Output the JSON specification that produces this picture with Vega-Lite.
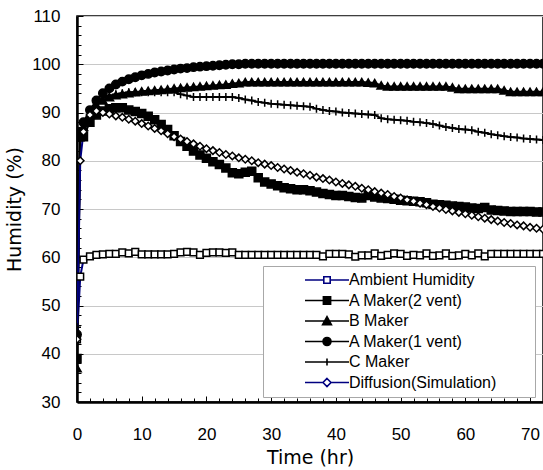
{
"$schema": "https://vega.github.io/schema/vega-lite/v6.json",
"width": 466, "height": 386,
"autosize": "none",
"padding": {"left": 77, "top": 16, "right": 0, "bottom": 68},
"background": "white",
"config": {"view": {"stroke": "black", "strokeWidth": 1.5}, "font": "Liberation Sans",
  "legend": {"orient": "none", "legendX": 186, "legendY": 250, "title": null,
    "labelFont": "Liberation Sans", "labelFontSize": 16, "labelColor": "black",
    "symbolSize": 64, "symbolOffset": 50, "labelOffset": 14, "rowPadding": 4.5, "padding": 6,
    "strokeColor": "#a8a8a8", "fillColor": "white", "symbolStrokeWidth": 1.6, "symbolOpacity": 1}},
"datasets": {"d": [
{"s":"Ambient Humidity","t":0,"h":43},{"s":"Ambient Humidity","t":0.5,"h":56},{"s":"Ambient Humidity","t":1,"h":59.5},{"s":"Ambient Humidity","t":2,"h":60.2},{"s":"Ambient Humidity","t":3,"h":60.5},{"s":"Ambient Humidity","t":4,"h":60.6},{"s":"Ambient Humidity","t":5,"h":60.7},{"s":"Ambient Humidity","t":6,"h":60.7},{"s":"Ambient Humidity","t":7,"h":61},{"s":"Ambient Humidity","t":8,"h":60.8},{"s":"Ambient Humidity","t":9,"h":61.1},{"s":"Ambient Humidity","t":10,"h":60.6},{"s":"Ambient Humidity","t":11,"h":60.6},{"s":"Ambient Humidity","t":12,"h":60.6},{"s":"Ambient Humidity","t":13,"h":60.6},{"s":"Ambient Humidity","t":14,"h":60.6},{"s":"Ambient Humidity","t":15,"h":60.7},{"s":"Ambient Humidity","t":16,"h":61},{"s":"Ambient Humidity","t":17,"h":61.1},{"s":"Ambient Humidity","t":18,"h":61},{"s":"Ambient Humidity","t":19,"h":60.5},{"s":"Ambient Humidity","t":20,"h":60.9},{"s":"Ambient Humidity","t":21,"h":61},{"s":"Ambient Humidity","t":22,"h":61},{"s":"Ambient Humidity","t":23,"h":60.9},{"s":"Ambient Humidity","t":24,"h":61},{"s":"Ambient Humidity","t":25,"h":60.5},{"s":"Ambient Humidity","t":26,"h":60.5},{"s":"Ambient Humidity","t":27,"h":60.5},{"s":"Ambient Humidity","t":28,"h":60.5},{"s":"Ambient Humidity","t":29,"h":60.5},{"s":"Ambient Humidity","t":30,"h":60.5},{"s":"Ambient Humidity","t":31,"h":60.5},{"s":"Ambient Humidity","t":32,"h":60.5},{"s":"Ambient Humidity","t":33,"h":60.5},{"s":"Ambient Humidity","t":34,"h":60.5},{"s":"Ambient Humidity","t":35,"h":60.5},{"s":"Ambient Humidity","t":36,"h":60.5},{"s":"Ambient Humidity","t":37,"h":60.5},{"s":"Ambient Humidity","t":38,"h":60.2},{"s":"Ambient Humidity","t":39,"h":60.7},{"s":"Ambient Humidity","t":40,"h":60.7},{"s":"Ambient Humidity","t":41,"h":60.7},{"s":"Ambient Humidity","t":42,"h":60.6},{"s":"Ambient Humidity","t":43,"h":60.1},{"s":"Ambient Humidity","t":44,"h":60.4},{"s":"Ambient Humidity","t":45,"h":60.4},{"s":"Ambient Humidity","t":46,"h":60.8},{"s":"Ambient Humidity","t":47,"h":60.3},{"s":"Ambient Humidity","t":48,"h":60.5},{"s":"Ambient Humidity","t":49,"h":60.8},{"s":"Ambient Humidity","t":50,"h":60.7},{"s":"Ambient Humidity","t":51,"h":60.3},{"s":"Ambient Humidity","t":52,"h":60.5},{"s":"Ambient Humidity","t":53,"h":60.4},{"s":"Ambient Humidity","t":54,"h":60.8},{"s":"Ambient Humidity","t":55,"h":60.3},{"s":"Ambient Humidity","t":56,"h":60.4},{"s":"Ambient Humidity","t":57,"h":60.8},{"s":"Ambient Humidity","t":58,"h":60.3},{"s":"Ambient Humidity","t":59,"h":60.4},{"s":"Ambient Humidity","t":60,"h":60.7},{"s":"Ambient Humidity","t":61,"h":60.4},{"s":"Ambient Humidity","t":62,"h":60.8},{"s":"Ambient Humidity","t":63,"h":60.2},{"s":"Ambient Humidity","t":64,"h":60.7},{"s":"Ambient Humidity","t":65,"h":60.7},{"s":"Ambient Humidity","t":66,"h":60.7},{"s":"Ambient Humidity","t":67,"h":60.7},{"s":"Ambient Humidity","t":68,"h":60.7},{"s":"Ambient Humidity","t":69,"h":60.7},{"s":"Ambient Humidity","t":70,"h":60.7},{"s":"Ambient Humidity","t":71,"h":60.7},{"s":"Ambient Humidity","t":72,"h":60.7},
{"s":"A Maker(2 vent)","t":0,"h":39},{"s":"A Maker(2 vent)","t":0.5,"h":85},{"s":"A Maker(2 vent)","t":1,"h":85},{"s":"A Maker(2 vent)","t":2,"h":88},{"s":"A Maker(2 vent)","t":3,"h":89.5},{"s":"A Maker(2 vent)","t":4,"h":90.3},{"s":"A Maker(2 vent)","t":5,"h":90.8},{"s":"A Maker(2 vent)","t":6,"h":91},{"s":"A Maker(2 vent)","t":7,"h":91},{"s":"A Maker(2 vent)","t":8,"h":90.5},{"s":"A Maker(2 vent)","t":9,"h":90.2},{"s":"A Maker(2 vent)","t":10,"h":89.8},{"s":"A Maker(2 vent)","t":11,"h":89.2},{"s":"A Maker(2 vent)","t":12,"h":88.5},{"s":"A Maker(2 vent)","t":13,"h":87.5},{"s":"A Maker(2 vent)","t":14,"h":86.5},{"s":"A Maker(2 vent)","t":15,"h":85.2},{"s":"A Maker(2 vent)","t":16,"h":84},{"s":"A Maker(2 vent)","t":17,"h":83},{"s":"A Maker(2 vent)","t":18,"h":82},{"s":"A Maker(2 vent)","t":19,"h":81.2},{"s":"A Maker(2 vent)","t":20,"h":80.5},{"s":"A Maker(2 vent)","t":21,"h":79.8},{"s":"A Maker(2 vent)","t":22,"h":79.2},{"s":"A Maker(2 vent)","t":23,"h":78.5},{"s":"A Maker(2 vent)","t":24,"h":77.5},{"s":"A Maker(2 vent)","t":25,"h":77.3},{"s":"A Maker(2 vent)","t":26,"h":77.6},{"s":"A Maker(2 vent)","t":27,"h":77.8},{"s":"A Maker(2 vent)","t":28,"h":76.5},{"s":"A Maker(2 vent)","t":29,"h":75.6},{"s":"A Maker(2 vent)","t":30,"h":75.2},{"s":"A Maker(2 vent)","t":31,"h":74.8},{"s":"A Maker(2 vent)","t":32,"h":74.4},{"s":"A Maker(2 vent)","t":33,"h":74.2},{"s":"A Maker(2 vent)","t":34,"h":74},{"s":"A Maker(2 vent)","t":35,"h":74},{"s":"A Maker(2 vent)","t":36,"h":73.8},{"s":"A Maker(2 vent)","t":37,"h":73.5},{"s":"A Maker(2 vent)","t":38,"h":73.2},{"s":"A Maker(2 vent)","t":39,"h":73},{"s":"A Maker(2 vent)","t":40,"h":72.8},{"s":"A Maker(2 vent)","t":41,"h":72.8},{"s":"A Maker(2 vent)","t":42,"h":72.6},{"s":"A Maker(2 vent)","t":43,"h":72.4},{"s":"A Maker(2 vent)","t":44,"h":72.3},{"s":"A Maker(2 vent)","t":45,"h":72.8},{"s":"A Maker(2 vent)","t":46,"h":72.5},{"s":"A Maker(2 vent)","t":47,"h":72.3},{"s":"A Maker(2 vent)","t":48,"h":72.2},{"s":"A Maker(2 vent)","t":49,"h":72},{"s":"A Maker(2 vent)","t":50,"h":71.8},{"s":"A Maker(2 vent)","t":51,"h":71.7},{"s":"A Maker(2 vent)","t":52,"h":71.6},{"s":"A Maker(2 vent)","t":53,"h":71.5},{"s":"A Maker(2 vent)","t":54,"h":71.3},{"s":"A Maker(2 vent)","t":55,"h":71},{"s":"A Maker(2 vent)","t":56,"h":70.9},{"s":"A Maker(2 vent)","t":57,"h":70.8},{"s":"A Maker(2 vent)","t":58,"h":70.6},{"s":"A Maker(2 vent)","t":59,"h":70.5},{"s":"A Maker(2 vent)","t":60,"h":70.4},{"s":"A Maker(2 vent)","t":61,"h":70.2},{"s":"A Maker(2 vent)","t":62,"h":70.1},{"s":"A Maker(2 vent)","t":63,"h":70.3},{"s":"A Maker(2 vent)","t":64,"h":69.8},{"s":"A Maker(2 vent)","t":65,"h":69.7},{"s":"A Maker(2 vent)","t":66,"h":69.6},{"s":"A Maker(2 vent)","t":67,"h":69.5},{"s":"A Maker(2 vent)","t":68,"h":69.5},{"s":"A Maker(2 vent)","t":69,"h":69.5},{"s":"A Maker(2 vent)","t":70,"h":69.5},{"s":"A Maker(2 vent)","t":71,"h":69.4},{"s":"A Maker(2 vent)","t":72,"h":69.4},
{"s":"B Maker","t":0,"h":37},{"s":"B Maker","t":0.5,"h":86},{"s":"B Maker","t":1,"h":87},{"s":"B Maker","t":2,"h":89.5},{"s":"B Maker","t":3,"h":91.5},{"s":"B Maker","t":4,"h":92.5},{"s":"B Maker","t":5,"h":93.2},{"s":"B Maker","t":6,"h":93.6},{"s":"B Maker","t":7,"h":93.8},{"s":"B Maker","t":8,"h":94},{"s":"B Maker","t":9,"h":94.2},{"s":"B Maker","t":10,"h":94.4},{"s":"B Maker","t":11,"h":94.5},{"s":"B Maker","t":12,"h":94.6},{"s":"B Maker","t":13,"h":94.7},{"s":"B Maker","t":14,"h":94.8},{"s":"B Maker","t":15,"h":95},{"s":"B Maker","t":16,"h":95.1},{"s":"B Maker","t":17,"h":95.2},{"s":"B Maker","t":18,"h":95.3},{"s":"B Maker","t":19,"h":95.4},{"s":"B Maker","t":20,"h":95.5},{"s":"B Maker","t":21,"h":95.6},{"s":"B Maker","t":22,"h":95.7},{"s":"B Maker","t":23,"h":95.8},{"s":"B Maker","t":24,"h":96},{"s":"B Maker","t":25,"h":96.1},{"s":"B Maker","t":26,"h":96.3},{"s":"B Maker","t":27,"h":96.3},{"s":"B Maker","t":28,"h":96.3},{"s":"B Maker","t":29,"h":96.3},{"s":"B Maker","t":30,"h":96.3},{"s":"B Maker","t":31,"h":96.3},{"s":"B Maker","t":32,"h":96.3},{"s":"B Maker","t":33,"h":96.3},{"s":"B Maker","t":34,"h":96.3},{"s":"B Maker","t":35,"h":96.3},{"s":"B Maker","t":36,"h":96.3},{"s":"B Maker","t":37,"h":96.3},{"s":"B Maker","t":38,"h":96.3},{"s":"B Maker","t":39,"h":96.3},{"s":"B Maker","t":40,"h":96.3},{"s":"B Maker","t":41,"h":96.3},{"s":"B Maker","t":42,"h":96.3},{"s":"B Maker","t":43,"h":96.3},{"s":"B Maker","t":44,"h":96.3},{"s":"B Maker","t":45,"h":96.2},{"s":"B Maker","t":46,"h":96.1},{"s":"B Maker","t":47,"h":95.6},{"s":"B Maker","t":48,"h":95.4},{"s":"B Maker","t":49,"h":95.4},{"s":"B Maker","t":50,"h":95.4},{"s":"B Maker","t":51,"h":95.4},{"s":"B Maker","t":52,"h":95.4},{"s":"B Maker","t":53,"h":95.4},{"s":"B Maker","t":54,"h":95.4},{"s":"B Maker","t":55,"h":95.4},{"s":"B Maker","t":56,"h":95.4},{"s":"B Maker","t":57,"h":95.4},{"s":"B Maker","t":58,"h":95.2},{"s":"B Maker","t":59,"h":94.9},{"s":"B Maker","t":60,"h":94.9},{"s":"B Maker","t":61,"h":94.9},{"s":"B Maker","t":62,"h":94.9},{"s":"B Maker","t":63,"h":94.9},{"s":"B Maker","t":64,"h":94.9},{"s":"B Maker","t":65,"h":94.9},{"s":"B Maker","t":66,"h":94.6},{"s":"B Maker","t":67,"h":94.3},{"s":"B Maker","t":68,"h":94.3},{"s":"B Maker","t":69,"h":94.3},{"s":"B Maker","t":70,"h":94.3},{"s":"B Maker","t":71,"h":94.3},{"s":"B Maker","t":72,"h":94.3},
{"s":"A Maker(1 vent)","t":0,"h":44},{"s":"A Maker(1 vent)","t":0.5,"h":86},{"s":"A Maker(1 vent)","t":1,"h":88},{"s":"A Maker(1 vent)","t":2,"h":90.5},{"s":"A Maker(1 vent)","t":3,"h":92.5},{"s":"A Maker(1 vent)","t":4,"h":94},{"s":"A Maker(1 vent)","t":5,"h":95},{"s":"A Maker(1 vent)","t":6,"h":95.8},{"s":"A Maker(1 vent)","t":7,"h":96.4},{"s":"A Maker(1 vent)","t":8,"h":96.9},{"s":"A Maker(1 vent)","t":9,"h":97.3},{"s":"A Maker(1 vent)","t":10,"h":97.7},{"s":"A Maker(1 vent)","t":11,"h":98},{"s":"A Maker(1 vent)","t":12,"h":98.3},{"s":"A Maker(1 vent)","t":13,"h":98.5},{"s":"A Maker(1 vent)","t":14,"h":98.7},{"s":"A Maker(1 vent)","t":15,"h":98.9},{"s":"A Maker(1 vent)","t":16,"h":99.1},{"s":"A Maker(1 vent)","t":17,"h":99.2},{"s":"A Maker(1 vent)","t":18,"h":99.4},{"s":"A Maker(1 vent)","t":19,"h":99.5},{"s":"A Maker(1 vent)","t":20,"h":99.6},{"s":"A Maker(1 vent)","t":21,"h":99.7},{"s":"A Maker(1 vent)","t":22,"h":99.8},{"s":"A Maker(1 vent)","t":23,"h":99.9},{"s":"A Maker(1 vent)","t":24,"h":100},{"s":"A Maker(1 vent)","t":25,"h":100},{"s":"A Maker(1 vent)","t":26,"h":100.1},{"s":"A Maker(1 vent)","t":27,"h":100.1},{"s":"A Maker(1 vent)","t":28,"h":100.1},{"s":"A Maker(1 vent)","t":29,"h":100.1},{"s":"A Maker(1 vent)","t":30,"h":100.1},{"s":"A Maker(1 vent)","t":31,"h":100.1},{"s":"A Maker(1 vent)","t":32,"h":100.1},{"s":"A Maker(1 vent)","t":33,"h":100.1},{"s":"A Maker(1 vent)","t":34,"h":100.1},{"s":"A Maker(1 vent)","t":35,"h":100.1},{"s":"A Maker(1 vent)","t":36,"h":100.1},{"s":"A Maker(1 vent)","t":37,"h":100.1},{"s":"A Maker(1 vent)","t":38,"h":100.1},{"s":"A Maker(1 vent)","t":39,"h":100.1},{"s":"A Maker(1 vent)","t":40,"h":100.1},{"s":"A Maker(1 vent)","t":41,"h":100.1},{"s":"A Maker(1 vent)","t":42,"h":100.1},{"s":"A Maker(1 vent)","t":43,"h":100.1},{"s":"A Maker(1 vent)","t":44,"h":100.1},{"s":"A Maker(1 vent)","t":45,"h":100.1},{"s":"A Maker(1 vent)","t":46,"h":100.1},{"s":"A Maker(1 vent)","t":47,"h":100.1},{"s":"A Maker(1 vent)","t":48,"h":100.1},{"s":"A Maker(1 vent)","t":49,"h":100.1},{"s":"A Maker(1 vent)","t":50,"h":100.1},{"s":"A Maker(1 vent)","t":51,"h":100.1},{"s":"A Maker(1 vent)","t":52,"h":100.1},{"s":"A Maker(1 vent)","t":53,"h":100.1},{"s":"A Maker(1 vent)","t":54,"h":100.1},{"s":"A Maker(1 vent)","t":55,"h":100.1},{"s":"A Maker(1 vent)","t":56,"h":100.1},{"s":"A Maker(1 vent)","t":57,"h":100.1},{"s":"A Maker(1 vent)","t":58,"h":100.1},{"s":"A Maker(1 vent)","t":59,"h":100.1},{"s":"A Maker(1 vent)","t":60,"h":100.1},{"s":"A Maker(1 vent)","t":61,"h":100.1},{"s":"A Maker(1 vent)","t":62,"h":100.1},{"s":"A Maker(1 vent)","t":63,"h":100.1},{"s":"A Maker(1 vent)","t":64,"h":100.1},{"s":"A Maker(1 vent)","t":65,"h":100.1},{"s":"A Maker(1 vent)","t":66,"h":100.1},{"s":"A Maker(1 vent)","t":67,"h":100.1},{"s":"A Maker(1 vent)","t":68,"h":100.1},{"s":"A Maker(1 vent)","t":69,"h":100.1},{"s":"A Maker(1 vent)","t":70,"h":100.1},{"s":"A Maker(1 vent)","t":71,"h":100.1},{"s":"A Maker(1 vent)","t":72,"h":100.1},
{"s":"C Maker","t":0,"h":45.5},{"s":"C Maker","t":0.5,"h":86},{"s":"C Maker","t":1,"h":87.5},{"s":"C Maker","t":2,"h":90},{"s":"C Maker","t":3,"h":92},{"s":"C Maker","t":4,"h":93},{"s":"C Maker","t":5,"h":93.5},{"s":"C Maker","t":6,"h":93.8},{"s":"C Maker","t":7,"h":94},{"s":"C Maker","t":8,"h":94.2},{"s":"C Maker","t":9,"h":94.2},{"s":"C Maker","t":10,"h":94.2},{"s":"C Maker","t":11,"h":94.2},{"s":"C Maker","t":12,"h":94.2},{"s":"C Maker","t":13,"h":94.2},{"s":"C Maker","t":14,"h":94.2},{"s":"C Maker","t":15,"h":94.2},{"s":"C Maker","t":16,"h":93.8},{"s":"C Maker","t":17,"h":93.5},{"s":"C Maker","t":18,"h":93.2},{"s":"C Maker","t":19,"h":93.2},{"s":"C Maker","t":20,"h":93.2},{"s":"C Maker","t":21,"h":93.2},{"s":"C Maker","t":22,"h":93.2},{"s":"C Maker","t":23,"h":93.2},{"s":"C Maker","t":24,"h":93.2},{"s":"C Maker","t":25,"h":93},{"s":"C Maker","t":26,"h":92.7},{"s":"C Maker","t":27,"h":92.5},{"s":"C Maker","t":28,"h":92.2},{"s":"C Maker","t":29,"h":92},{"s":"C Maker","t":30,"h":91.8},{"s":"C Maker","t":31,"h":91.7},{"s":"C Maker","t":32,"h":91.6},{"s":"C Maker","t":33,"h":91.5},{"s":"C Maker","t":34,"h":91.4},{"s":"C Maker","t":35,"h":91.3},{"s":"C Maker","t":36,"h":91.2},{"s":"C Maker","t":37,"h":90.8},{"s":"C Maker","t":38,"h":90.5},{"s":"C Maker","t":39,"h":90.3},{"s":"C Maker","t":40,"h":90.2},{"s":"C Maker","t":41,"h":90},{"s":"C Maker","t":42,"h":89.9},{"s":"C Maker","t":43,"h":89.8},{"s":"C Maker","t":44,"h":89.7},{"s":"C Maker","t":45,"h":89.6},{"s":"C Maker","t":46,"h":89.5},{"s":"C Maker","t":47,"h":88.8},{"s":"C Maker","t":48,"h":88.6},{"s":"C Maker","t":49,"h":88.5},{"s":"C Maker","t":50,"h":88.4},{"s":"C Maker","t":51,"h":88.3},{"s":"C Maker","t":52,"h":88.1},{"s":"C Maker","t":53,"h":88},{"s":"C Maker","t":54,"h":87.8},{"s":"C Maker","t":55,"h":87.6},{"s":"C Maker","t":56,"h":87.3},{"s":"C Maker","t":57,"h":87},{"s":"C Maker","t":58,"h":86.8},{"s":"C Maker","t":59,"h":86.6},{"s":"C Maker","t":60,"h":86.5},{"s":"C Maker","t":61,"h":86.3},{"s":"C Maker","t":62,"h":86},{"s":"C Maker","t":63,"h":85.8},{"s":"C Maker","t":64,"h":85.5},{"s":"C Maker","t":65,"h":85.3},{"s":"C Maker","t":66,"h":85.1},{"s":"C Maker","t":67,"h":84.9},{"s":"C Maker","t":68,"h":84.8},{"s":"C Maker","t":69,"h":84.6},{"s":"C Maker","t":70,"h":84.5},{"s":"C Maker","t":71,"h":84.4},{"s":"C Maker","t":72,"h":84.3},
{"s":"Diffusion(Simulation)","t":0,"h":43},{"s":"Diffusion(Simulation)","t":0.5,"h":80},{"s":"Diffusion(Simulation)","t":1,"h":86},{"s":"Diffusion(Simulation)","t":2,"h":89.5},{"s":"Diffusion(Simulation)","t":3,"h":90.3},{"s":"Diffusion(Simulation)","t":4,"h":90},{"s":"Diffusion(Simulation)","t":5,"h":89.7},{"s":"Diffusion(Simulation)","t":6,"h":89.3},{"s":"Diffusion(Simulation)","t":7,"h":89},{"s":"Diffusion(Simulation)","t":8,"h":88.6},{"s":"Diffusion(Simulation)","t":9,"h":88.2},{"s":"Diffusion(Simulation)","t":10,"h":87.7},{"s":"Diffusion(Simulation)","t":11,"h":87.2},{"s":"Diffusion(Simulation)","t":12,"h":86.7},{"s":"Diffusion(Simulation)","t":13,"h":86.2},{"s":"Diffusion(Simulation)","t":14,"h":85.6},{"s":"Diffusion(Simulation)","t":15,"h":85},{"s":"Diffusion(Simulation)","t":16,"h":84.5},{"s":"Diffusion(Simulation)","t":17,"h":84},{"s":"Diffusion(Simulation)","t":18,"h":83.5},{"s":"Diffusion(Simulation)","t":19,"h":83},{"s":"Diffusion(Simulation)","t":20,"h":82.5},{"s":"Diffusion(Simulation)","t":21,"h":82.1},{"s":"Diffusion(Simulation)","t":22,"h":81.7},{"s":"Diffusion(Simulation)","t":23,"h":81.3},{"s":"Diffusion(Simulation)","t":24,"h":81},{"s":"Diffusion(Simulation)","t":25,"h":80.6},{"s":"Diffusion(Simulation)","t":26,"h":80.3},{"s":"Diffusion(Simulation)","t":27,"h":80},{"s":"Diffusion(Simulation)","t":28,"h":79.6},{"s":"Diffusion(Simulation)","t":29,"h":79.3},{"s":"Diffusion(Simulation)","t":30,"h":79},{"s":"Diffusion(Simulation)","t":31,"h":78.6},{"s":"Diffusion(Simulation)","t":32,"h":78.3},{"s":"Diffusion(Simulation)","t":33,"h":78},{"s":"Diffusion(Simulation)","t":34,"h":77.6},{"s":"Diffusion(Simulation)","t":35,"h":77.3},{"s":"Diffusion(Simulation)","t":36,"h":77},{"s":"Diffusion(Simulation)","t":37,"h":76.6},{"s":"Diffusion(Simulation)","t":38,"h":76.3},{"s":"Diffusion(Simulation)","t":39,"h":76},{"s":"Diffusion(Simulation)","t":40,"h":75.6},{"s":"Diffusion(Simulation)","t":41,"h":75.3},{"s":"Diffusion(Simulation)","t":42,"h":75},{"s":"Diffusion(Simulation)","t":43,"h":74.7},{"s":"Diffusion(Simulation)","t":44,"h":74.3},{"s":"Diffusion(Simulation)","t":45,"h":74},{"s":"Diffusion(Simulation)","t":46,"h":73.6},{"s":"Diffusion(Simulation)","t":47,"h":73.3},{"s":"Diffusion(Simulation)","t":48,"h":73},{"s":"Diffusion(Simulation)","t":49,"h":72.6},{"s":"Diffusion(Simulation)","t":50,"h":72.3},{"s":"Diffusion(Simulation)","t":51,"h":71.9},{"s":"Diffusion(Simulation)","t":52,"h":71.6},{"s":"Diffusion(Simulation)","t":53,"h":71.2},{"s":"Diffusion(Simulation)","t":54,"h":70.9},{"s":"Diffusion(Simulation)","t":55,"h":70.5},{"s":"Diffusion(Simulation)","t":56,"h":70.2},{"s":"Diffusion(Simulation)","t":57,"h":69.9},{"s":"Diffusion(Simulation)","t":58,"h":69.6},{"s":"Diffusion(Simulation)","t":59,"h":69.3},{"s":"Diffusion(Simulation)","t":60,"h":69},{"s":"Diffusion(Simulation)","t":61,"h":68.7},{"s":"Diffusion(Simulation)","t":62,"h":68.4},{"s":"Diffusion(Simulation)","t":63,"h":68.1},{"s":"Diffusion(Simulation)","t":64,"h":67.8},{"s":"Diffusion(Simulation)","t":65,"h":67.5},{"s":"Diffusion(Simulation)","t":66,"h":67.2},{"s":"Diffusion(Simulation)","t":67,"h":67},{"s":"Diffusion(Simulation)","t":68,"h":66.7},{"s":"Diffusion(Simulation)","t":69,"h":66.5},{"s":"Diffusion(Simulation)","t":70,"h":66.2},{"s":"Diffusion(Simulation)","t":71,"h":66},{"s":"Diffusion(Simulation)","t":72,"h":65.8}
]},
"data": {"name": "d"},
"encoding": {
  "x": {"field": "t", "type": "quantitative",
    "scale": {"domain": [0, 72], "nice": false, "zero": false},
    "axis": {"values": [0,2,4,6,8,10,12,14,16,18,20,22,24,26,28,30,32,34,36,38,40,42,44,46,48,50,52,54,56,58,60,62,64,66,68,70,72],
      "labelExpr": "datum.value % 10 === 0 ? datum.label : ''",
      "grid": false, "domainColor": "black", "domainWidth": 2.5,
      "tickColor": "black", "tickWidth": 1,
      "tickSize": {"condition": {"test": "datum.value % 10 === 0", "value": -6}, "value": -4},
      "labelFont": "Liberation Sans", "labelFontSize": 17, "labelColor": "black", "labelPadding": 30,
      "labelFlush": false, "labelOverlap": false,
      "title": "Time (hr)", "titleFont": "DejaVu Sans", "titleFontSize": 19, "titleFontWeight": "normal", "titleColor": "black", "titlePadding": 4}},
  "y": {"field": "h", "type": "quantitative",
    "scale": {"domain": [30, 110], "nice": false, "zero": false},
    "axis": {"values": [30,32,34,36,38,40,42,44,46,48,50,52,54,56,58,60,62,64,66,68,70,72,74,76,78,80,82,84,86,88,90,92,94,96,98,100,102,104,106,108,110],
      "labelExpr": "datum.value % 10 === 0 ? datum.label : ''",
      "grid": true, "gridColor": "#c8c8c8", "gridWidth": 1,
      "gridOpacity": {"condition": {"test": "datum.value % 10 === 0", "value": 1}, "value": 0},
      "domainColor": "black", "domainWidth": 2.5,
      "tickColor": "black", "tickWidth": 1,
      "tickSize": {"condition": {"test": "datum.value % 10 === 0", "value": -6}, "value": -4},
      "labelFont": "Liberation Sans", "labelFontSize": 17, "labelColor": "black", "labelPadding": 23,
      "labelFlush": false, "labelOverlap": false,
      "title": "Humidity (%)", "titleFont": "DejaVu Sans", "titleFontSize": 19, "titleFontWeight": "normal", "titleColor": "black", "titlePadding": 7}}
},
"layer": [
  {"mark": {"type": "line", "clip": true, "strokeWidth": 2},
   "encoding": {
     "stroke": {"field": "s", "type": "nominal",
       "scale": {"domain": ["Ambient Humidity","A Maker(2 vent)","B Maker","A Maker(1 vent)","C Maker","Diffusion(Simulation)"],
                 "range": ["#000080","#000000","#000000","#000000","#000000","#000080"]}}
   }},
  {"mark": {"type": "point", "clip": true, "filled": true, "opacity": 0, "strokeWidth": 1.6},
   "encoding": {
     "stroke": {"field": "s", "type": "nominal"},
     "shape": {"field": "s", "type": "nominal",
       "scale": {"domain": ["Ambient Humidity","A Maker(2 vent)","B Maker","A Maker(1 vent)","C Maker","Diffusion(Simulation)"],
                 "range": ["M-5.5,0H-0.8M0.8,0H5.5M-0.8,-0.8H0.8V0.8H-0.8ZM49.5,0","M-5.5,0H5.5M-0.9,-0.9H0.9V0.9H-0.9Z","M-5.5,0H5.5M0,-1.1L1.1,0.9H-1.1Z","M-5.5,0H5.5M1,0A1,1 0 1,1 -1,0A1,1 0 1,1 1,0Z","M-5.5,0H5.5M0,-0.9V0.9","M-5.5,0H-1M1,0H5.5M0,-1L1,0L0,1L-1,0Z"]}},
     "fill": {"field": "s", "type": "nominal",
       "scale": {"domain": ["Ambient Humidity","A Maker(2 vent)","B Maker","A Maker(1 vent)","C Maker","Diffusion(Simulation)"],
                 "range": ["#ffffff","#000000","#000000","#000000","#000000","#ffffff"]}}
   }},
  {"transform": [{"filter": {"field": "s", "equal": "Ambient Humidity"}}],
   "mark": {"type": "point", "clip": true, "shape": "square", "size": 45, "filled": true, "fill": "white", "stroke": "black", "strokeWidth": 1.5, "opacity": 1}},
  {"transform": [{"filter": {"field": "s", "equal": "A Maker(2 vent)"}}],
   "mark": {"type": "point", "clip": true, "shape": "square", "size": 64, "filled": true, "fill": "black", "stroke": "black", "strokeWidth": 1.5, "opacity": 1}},
  {"transform": [{"filter": {"field": "s", "equal": "B Maker"}}],
   "mark": {"type": "point", "clip": true, "shape": "triangle-up", "size": 70, "filled": true, "fill": "black", "stroke": "black", "strokeWidth": 1.5, "opacity": 1}},
  {"transform": [{"filter": {"field": "s", "equal": "A Maker(1 vent)"}}],
   "mark": {"type": "point", "clip": true, "shape": "circle", "size": 70, "filled": true, "fill": "black", "stroke": "black", "strokeWidth": 1.5, "opacity": 1}},
  {"transform": [{"filter": {"field": "s", "equal": "C Maker"}}],
   "mark": {"type": "point", "clip": true, "shape": "M-1,0H1M0,-1V1", "size": 64, "filled": true, "fill": "black", "stroke": "black", "strokeWidth": 1.5, "opacity": 1}},
  {"transform": [{"filter": {"field": "s", "equal": "Diffusion(Simulation)"}}],
   "mark": {"type": "point", "clip": true, "shape": "diamond", "size": 55, "filled": true, "fill": "white", "stroke": "black", "strokeWidth": 1.5, "opacity": 1}}
]
}
